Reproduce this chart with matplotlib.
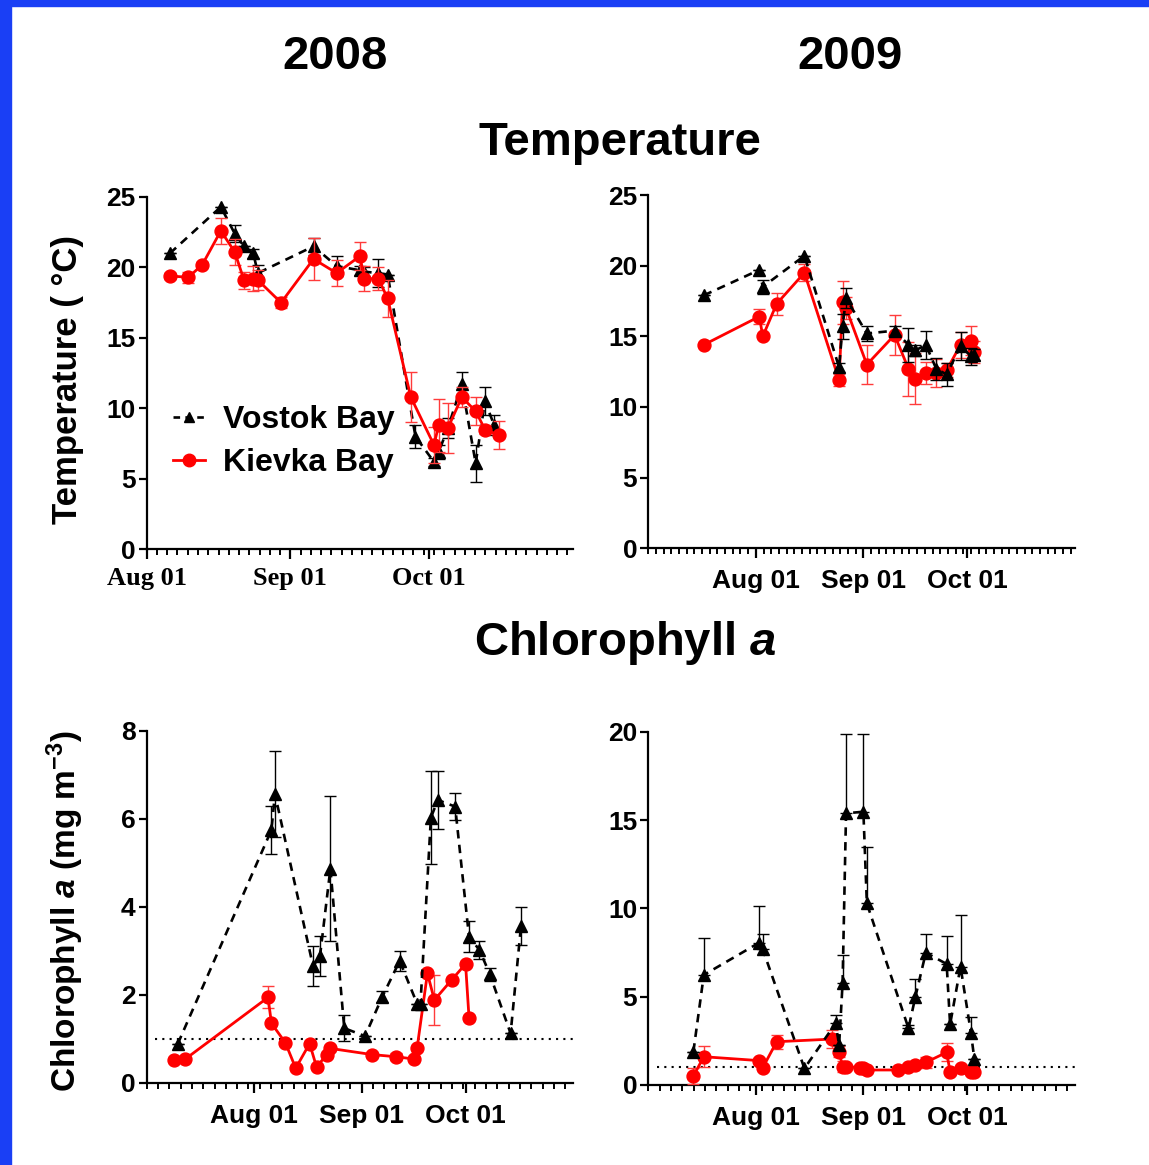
import numpy as np
import matplotlib
matplotlib.use('Agg')
import matplotlib.pyplot as plt
from matplotlib.lines import Line2D
from matplotlib.patches import Rectangle

plt.rcParams['font.family'] = ['Liberation Sans', 'DejaVu Sans']
plt.rcParams['font.weight'] = 'bold'
plt.rcParams['mathtext.fontset'] = 'custom'
plt.rcParams['mathtext.rm'] = 'Liberation Sans:bold'
plt.rcParams['mathtext.it'] = 'Liberation Sans:bold:italic'
plt.rcParams['mathtext.bf'] = 'Liberation Sans:bold'
plt.rcParams['mathtext.default'] = 'rm'

# Jours comptés depuis le 1er juillet (Aug 01 = 31, Sep 01 = 62, Oct 01 = 92)
month_ticks = [31, 62, 92]
month_labels = ['Aug 01', 'Sep 01', 'Oct 01']

# Température 2008
t08_vostok_x = [36, 47, 50, 52, 54, 55, 67, 72, 77, 78, 81, 83, 89, 93, 94, 96, 99, 102, 104, 106]
t08_vostok_y = [21.0, 24.3, 22.4, 21.5, 21.0, 19.6, 21.5, 20.1, 19.8, 19.7, 19.6, 19.5, 8.0, 6.2, 6.9, 8.6, 11.7, 6.1, 10.5, 8.8]
t08_vostok_err = [0, 0, 0.6, 0, 0.3, 0.6, 0.6, 0.7, 0.3, 0.3, 1.0, 0, 0.8, 0.3, 0.5, 0.7, 0.9, 1.3, 1.0, 0.7]
t08_kievka_x = [36, 40, 43, 47, 50, 52, 54, 55, 60, 67, 72, 77, 78, 81, 83, 88, 93, 94, 96, 99, 102, 104, 107]
t08_kievka_y = [19.4, 19.3, 20.2, 22.6, 21.1, 19.1, 19.2, 19.1, 17.5, 20.6, 19.6, 20.8, 19.2, 19.2, 17.8, 10.8, 7.4, 8.8, 8.6, 10.8, 9.8, 8.5, 8.1]
t08_kievka_err = [0.2, 0.4, 0.2, 0.9, 0.9, 0.6, 0.9, 0.7, 0.4, 1.5, 0.9, 1.0, 0.9, 0.8, 1.3, 1.8, 1.3, 1.9, 1.8, 0.7, 1.0, 0.3, 1.0]

# Température 2009
t09_vostok_x = [16, 32, 33, 45, 55, 56, 57, 63, 71, 75, 77, 80, 83, 86, 90, 93, 94]
t09_vostok_y = [17.9, 19.7, 18.5, 20.7, 12.8, 15.7, 17.7, 15.2, 15.4, 14.4, 14.0, 14.4, 12.7, 12.3, 14.3, 13.6, 13.7]
t09_vostok_err = [0, 0, 0.5, 0, 0.3, 0.9, 0.7, 0.5, 0.3, 1.2, 0.4, 1.0, 0.8, 0.8, 1.0, 0.6, 0.4]
t09_kievka_x = [16, 32, 33, 37, 45, 55, 56, 57, 63, 71, 75, 77, 80, 83, 86, 90, 93, 94]
t09_kievka_y = [14.4, 16.4, 15.0, 17.3, 19.5, 11.9, 17.4, 17.0, 13.0, 15.1, 12.7, 12.0, 12.4, 12.4, 12.6, 14.4, 14.7, 13.9]
t09_kievka_err = [0, 0.5, 0, 0.8, 0.6, 0.4, 1.5, 0.8, 1.4, 1.4, 1.9, 1.8, 0.8, 1.0, 0.5, 0.9, 1.0, 0.8]

# Chlorophylle a 2008
c08_vostok_x = [9, 36, 37, 48, 50, 53, 57, 63, 68, 73, 78, 79, 82, 84, 89, 93, 96, 99, 105, 108]
c08_vostok_y = [0.89, 5.75, 6.57, 2.65, 2.88, 4.87, 1.24, 1.06, 1.96, 2.77, 1.80, 1.80, 6.03, 6.43, 6.28, 3.32, 3.02, 2.47, 1.12, 3.57]
c08_vostok_err = [0, 0.55, 0.97, 0.45, 0.45, 1.65, 0.3, 0, 0.13, 0.23, 0, 0, 1.05, 0.65, 0.3, 0.35, 0.2, 0.15, 0, 0.43]
c08_kievka_x = [8, 11, 35, 36, 40, 43, 47, 49, 52, 53, 65, 72, 77, 78, 81, 83, 88, 92, 93]
c08_kievka_y = [0.52, 0.53, 1.94, 1.35, 0.91, 0.33, 0.89, 0.36, 0.64, 0.78, 0.64, 0.59, 0.54, 0.78, 2.49, 1.88, 2.34, 2.70, 1.48]
c08_kievka_err = [0, 0, 0.25, 0, 0, 0, 0, 0, 0, 0, 0, 0.08, 0.03, 0, 0.05, 0.57, 0, 0, 0]

# Chlorophylle a 2009 (barres noires vers le haut seulement)
c09_vostok_x = [13, 16, 32, 33, 45, 54, 55, 56, 57, 62, 63, 75, 77, 80, 86, 87, 90, 93, 94]
c09_vostok_y = [1.89, 6.23, 8.06, 7.68, 0.94, 3.49, 2.26, 5.75, 15.38, 15.47, 10.28, 3.21, 5.0, 7.49, 6.85, 3.43, 6.70, 2.96, 1.45]
c09_vostok_err = [0, 2.1, 2.1, 0.85, 0, 0.45, 0, 1.6, 4.5, 4.4, 3.2, 0.2, 1.0, 1.05, 1.6, 0, 2.9, 0.9, 0]
c09_kievka_x = [13, 16, 32, 33, 37, 53, 55, 56, 57, 61, 62, 63, 72, 75, 77, 80, 86, 87, 90, 93, 94]
c09_kievka_y = [0.51, 1.6, 1.38, 0.98, 2.45, 2.6, 1.89, 1.04, 1.04, 0.98, 0.94, 0.85, 0.85, 1.04, 1.13, 1.28, 1.85, 0.75, 0.98, 0.72, 0.75]
c09_kievka_err = [0.45, 0.6, 0, 0, 0.4, 0.5, 0.3, 0.3, 0, 0, 0, 0, 0, 0, 0, 0.3, 0.5, 0, 0, 0, 0]

W, H = 1149, 1165
fig = plt.figure(figsize=(W / 100, H / 100), dpi=100)

# bordure bleue
fig.patches.append(Rectangle((0, 0), 11 / W, 1, transform=fig.transFigure, color='#1a3ff5', zorder=0))
fig.patches.append(Rectangle((0, 1 - 6 / H), 1, 6 / H, transform=fig.transFigure, color='#1a3ff5', zorder=0))

DASH = (0, (3.2, 2.4))


def px_axes(x0, x1, ytop, ybot):
    return fig.add_axes([x0 / W, 1 - ybot / H, (x1 - x0) / W, (ybot - ytop) / H])


def draw(ax, vx, vy, ve, kx, ky, ke, red_on_top, up_only=False):
    zk, zv = (4, 3) if red_on_top else (3, 4)
    verr = [np.zeros(len(ve)), ve] if up_only else ve
    ax.errorbar(vx, vy, yerr=verr, fmt='none', ecolor='black', elinewidth=1, capsize=4, capthick=1, zorder=zv)
    ax.plot(vx, vy, color='black', ls=DASH, lw=1.9, marker='^', ms=8, zorder=zv)
    ax.errorbar(kx, ky, yerr=ke, fmt='none', ecolor='#ff3b3b', elinewidth=1, capsize=4, capthick=1, zorder=zk)
    ax.plot(kx, ky, color='#ff0000', ls='-', lw=2.0, marker='o', ms=9.3, zorder=zk)


def style(ax, xlim, ylim, yticks, minor_step, serif=False):
    ax.set_xlim(*xlim)
    ax.set_ylim(*ylim)
    for s in ['top', 'right']:
        ax.spines[s].set_visible(False)
    for s in ['left', 'bottom']:
        ax.spines[s].set_linewidth(1.6)
    ax.set_yticks(yticks)
    ax.set_xticks(month_ticks)
    ax.set_xticks(np.arange(xlim[0], xlim[1] + 0.1, minor_step), minor=True)
    fam = ['Liberation Serif'] if serif else ['Liberation Sans']
    ax.set_xticklabels(month_labels, fontsize=19, fontweight='bold', family=fam)
    ax.tick_params(axis='y', labelsize=19, length=6, width=1.6, pad=2)
    ax.tick_params(axis='x', which='major', length=7, width=1.6, pad=6 if serif else 8)
    ax.tick_params(axis='x', which='minor', length=4, width=1.4)
    for lab in ax.get_yticklabels():
        lab.set_fontweight('bold')


ax1 = px_axes(146.7, 573, 197, 549.3)
draw(ax1, t08_vostok_x, t08_vostok_y, t08_vostok_err, t08_kievka_x, t08_kievka_y, t08_kievka_err, True)
style(ax1, (31, 123), (0, 25), [0, 5, 10, 15, 20, 25], 31 / 14, serif=True)

handles = [Line2D([], [], color='black', ls=(0, (2.5, 2)), lw=1.9, marker='^', ms=7),
           Line2D([], [], color='#ff0000', ls='-', lw=2.0, marker='o', ms=9)]
ax1.legend(handles, ['Vostok Bay', 'Kievka Bay'], loc='upper left', bbox_to_anchor=(-0.005, 0.49),
           frameon=False, handlelength=1.0, handletextpad=0.55, labelspacing=0.4,
           prop={'weight': 'bold', 'size': 23})

ax2 = px_axes(648.3, 1075, 195, 548.3)
draw(ax2, t09_vostok_x, t09_vostok_y, t09_vostok_err, t09_kievka_x, t09_kievka_y, t09_kievka_err, False)
style(ax2, (0, 123), (0, 25), [0, 5, 10, 15, 20, 25], 31 / 14)

ax3 = px_axes(146.7, 573, 731, 1082.7)
ax3.axhline(1, xmin=0.02, color='black', ls=(0, (1, 2.5)), lw=1.5, zorder=1)
draw(ax3, c08_vostok_x, c08_vostok_y, c08_vostok_err, c08_kievka_x, c08_kievka_y, c08_kievka_err, False)
style(ax3, (0, 123), (0, 8), [0, 2, 4, 6, 8], 31 / 9.5)

ax4 = px_axes(648.3, 1075, 731.7, 1085)
ax4.axhline(1, xmin=0.02, color='black', ls=(0, (1, 2.5)), lw=1.5, zorder=1)
draw(ax4, c09_vostok_x, c09_vostok_y, c09_vostok_err, c09_kievka_x, c09_kievka_y, c09_kievka_err, False,
     up_only=True)
style(ax4, (0, 123), (0, 20), [0, 5, 10, 15, 20], 31 / 9.5)

# titres
fig.text(335 / W, 1 - 57 / H, '2008', ha='center', va='center', fontsize=34, fontweight='bold')
fig.text(850 / W, 1 - 57 / H, '2009', ha='center', va='center', fontsize=34, fontweight='bold')
fig.text(620 / W, 1 - 143 / H, 'Temperature', ha='center', va='center', fontsize=34, fontweight='bold')
fig.text(625 / W, 1 - 643 / H, r'Chlorophyll $\mathit{a}$', ha='center', va='center', fontsize=34, fontweight='bold')

fig.text(67 / W, 1 - 380 / H, 'Temperature ( °C)', rotation=90, ha='center', va='center',
         fontsize=25, fontweight='bold')
fig.text(65 / W, 1 - 911 / H, r'Chlorophyll $\mathit{a}$ (mg m$^{-3}$)', rotation=90, ha='center', va='center',
         fontsize=24, fontweight='bold')

fig.savefig('out.png', dpi=100)
